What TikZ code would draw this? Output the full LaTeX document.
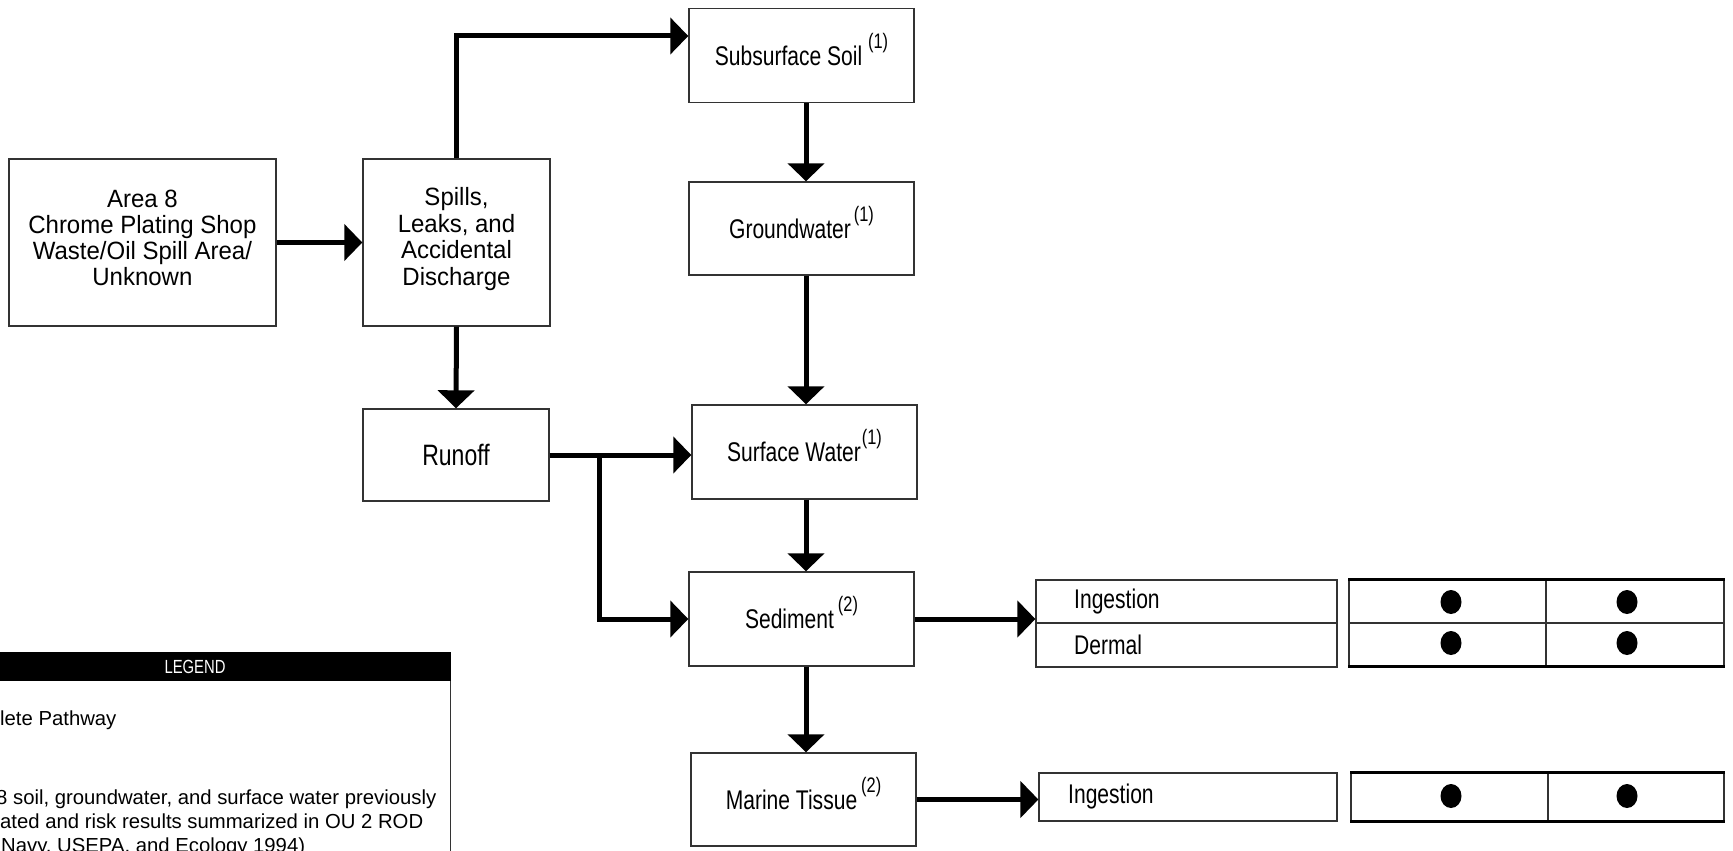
\documentclass[tikz,border=0pt]{standalone}
\usepackage{fontspec}
\setmainfont{Liberation Sans}
\newfontfamily\fN[FakeStretch=0.78]{Liberation Sans}
\newfontfamily\fW[FakeStretch=0.96]{Liberation Sans}
\usetikzlibrary{arrows.meta,shapes.geometric}
\newcommand{\mysup}[1]{\smash{\raisebox{17pt}{\fN\fontsize{21}{21}\selectfont(#1)}}}
\begin{document}
\begin{tikzpicture}[x=1pt,y=-1pt,
  box/.style={draw=black!80, line width=1.4pt, fill=white, inner sep=0pt, align=center},
  bigtxt/.style={inner sep=0pt, align=center, font=\fW\fontsize{25}{26}\selectfont},
  medtxt/.style={font=\fN\fontsize{27}{29}\selectfont},
  arr/.style={line width=5pt, -{Triangle[length=18pt,width=36pt]}},
  cell/.style={draw=black!80, line width=1.2pt, inner sep=0pt},
  celltxt/.style={inner sep=0pt, anchor=west, font=\fN\fontsize{27}{29}\selectfont},
  dot/.style={ellipse, fill=black, minimum width=21pt, minimum height=24pt, inner sep=0pt},
  thickrule/.style={line width=3pt},
  legtxt/.style={inner sep=0pt, anchor=base west, font=\fontsize{20.3}{22}\selectfont}]
\useasboundingbox (0,0) rectangle (1733,851);
\clip (0,0) rectangle (1733,851);

% main boxes
\node[box, minimum width=267pt, minimum height=167pt] (area) at (142.4,242.5) {};
\node[bigtxt] (areat) at (142.4,237.5)
  {Area 8\\Chrome Plating Shop\\Waste/Oil Spill Area/\\Unknown};
\node[box, minimum width=187pt, minimum height=167pt] (spills) at (456.5,242.5) {};
\node[bigtxt, font=\fW\fontsize{25}{26.8}\selectfont] (spillst) at (456.5,239)
  {Spills,\\Leaks, and\\Accidental\\Discharge};
\node[box, font=\fN\fontsize{29.5}{31}\selectfont, minimum width=186pt, minimum height=92pt] (runoff) at (456,455) {Runoff};
\node[box, medtxt, minimum width=225pt, minimum height=94pt] (sub) at (801.5,55.5) {Subsurface Soil \mysup{1}};
\node[box, medtxt, minimum width=225pt, minimum height=93pt] (gw) at (801.5,228.5) {Groundwater\kern3pt\mysup{1}};
\node[box, medtxt, minimum width=225pt, minimum height=94pt] (surf) at (804.5,452) {Surface Water\kern1pt\mysup{1}};
\node[box, medtxt, minimum width=225pt, minimum height=94pt] (sed) at (801.5,619) {Sediment\kern4pt\mysup{2}};
\node[box, medtxt, minimum width=225pt, minimum height=93pt] (marine) at (803.5,799.5) {Marine Tissue\kern4pt\mysup{2}};

% connectors
\coordinate (vx) at (806,0);
\coordinate (t1) at (456.5,36);
\coordinate (br) at (599,0);
\draw[arr] (area.east) -- (spills.west);
\draw[arr] (spills.north) -- (t1) -- (sub.west |- t1);
\draw[arr] (spills.south) -- (runoff.north);
\draw[arr] (sub.south -| vx) -- (gw.north -| vx);
\draw[arr] (gw.south -| vx) -- (surf.north -| vx);
\draw[arr] (surf.south -| vx) -- (sed.north -| vx);
\draw[arr] (sed.south -| vx) -- (marine.north -| vx);
\draw[arr] (runoff.east) -- (surf.west |- runoff.east);
\draw[arr] (runoff.east -| br) |- (sed.west);

% table for sediment
\node[cell, minimum width=301pt, minimum height=43pt] (ing1) at (1186.5,601.5) {};
\node[cell, minimum width=301pt, minimum height=44pt] (derm) at (1186.5,645) {};
\node[celltxt] (ing1t) at (1074,601.5) {Ingestion};
\node[celltxt] (dermt) at (1074,645) {Dermal};
\draw[arr] (sed.east) -- (ing1.west |- sed.east);

\node[cell, minimum width=375pt, minimum height=86pt] (t2) at (1536.5,623) {};
\coordinate (d1) at (1546,0);
\draw[line width=1.2pt, black!80] (t2.north -| d1) -- (t2.south -| d1);
\draw[line width=1.2pt, black!80] (t2.west) -- (t2.east);
\draw[thickrule] (t2.north west) -- (t2.north east);
\draw[thickrule] (t2.south west) -- (t2.south east);
\node[dot] (c11) at (1451,602) {};
\node[dot] (c12) at (1627,602) {};
\node[dot] (c21) at (1451,643) {};
\node[dot] (c22) at (1627,643) {};

% table for marine tissue
\node[cell, minimum width=298pt, minimum height=48pt] (ing3) at (1188,797) {};
\node[celltxt] (ing3t) at (1068,797) {Ingestion};
\draw[arr] (marine.east) -- (ing3.west |- marine.east);
\node[cell, minimum width=373pt, minimum height=48pt] (t4) at (1537.5,797) {};
\coordinate (d2) at (1548,0);
\draw[line width=1.2pt, black!80] (t4.north -| d2) -- (t4.south -| d2);
\draw[thickrule] (t4.north west) -- (t4.north east);
\draw[thickrule] (t4.south west) -- (t4.south east);
\node[dot] (c31) at (1451,796) {};
\node[dot] (c32) at (1627,796) {};

% legend
\node[draw=black!80, line width=1.4pt, fill=white, minimum width=471pt, minimum height=260pt, anchor=north east, inner sep=0pt] (legend) at (451,652) {};
\node[fill=black, minimum width=471pt, minimum height=29pt, anchor=north east, inner sep=0pt] (leghead) at (451,652) {};
\node[text=white, inner sep=0pt, font=\fN\fontsize{19}{19}\selectfont] (legt) at (195,667) {LEGEND};
\node[legtxt] (l1) at (0,725) {lete Pathway};
\node[legtxt] (l2) at (-4,804) {8 soil, groundwater, and surface water previously};
\node[legtxt] (l3) at (0,828) {ated and risk results summarized in OU 2 ROD};
\node[legtxt] (l4) at (1,852) {Navy, USEPA, and Ecology 1994)};
\end{tikzpicture}
\end{document}
